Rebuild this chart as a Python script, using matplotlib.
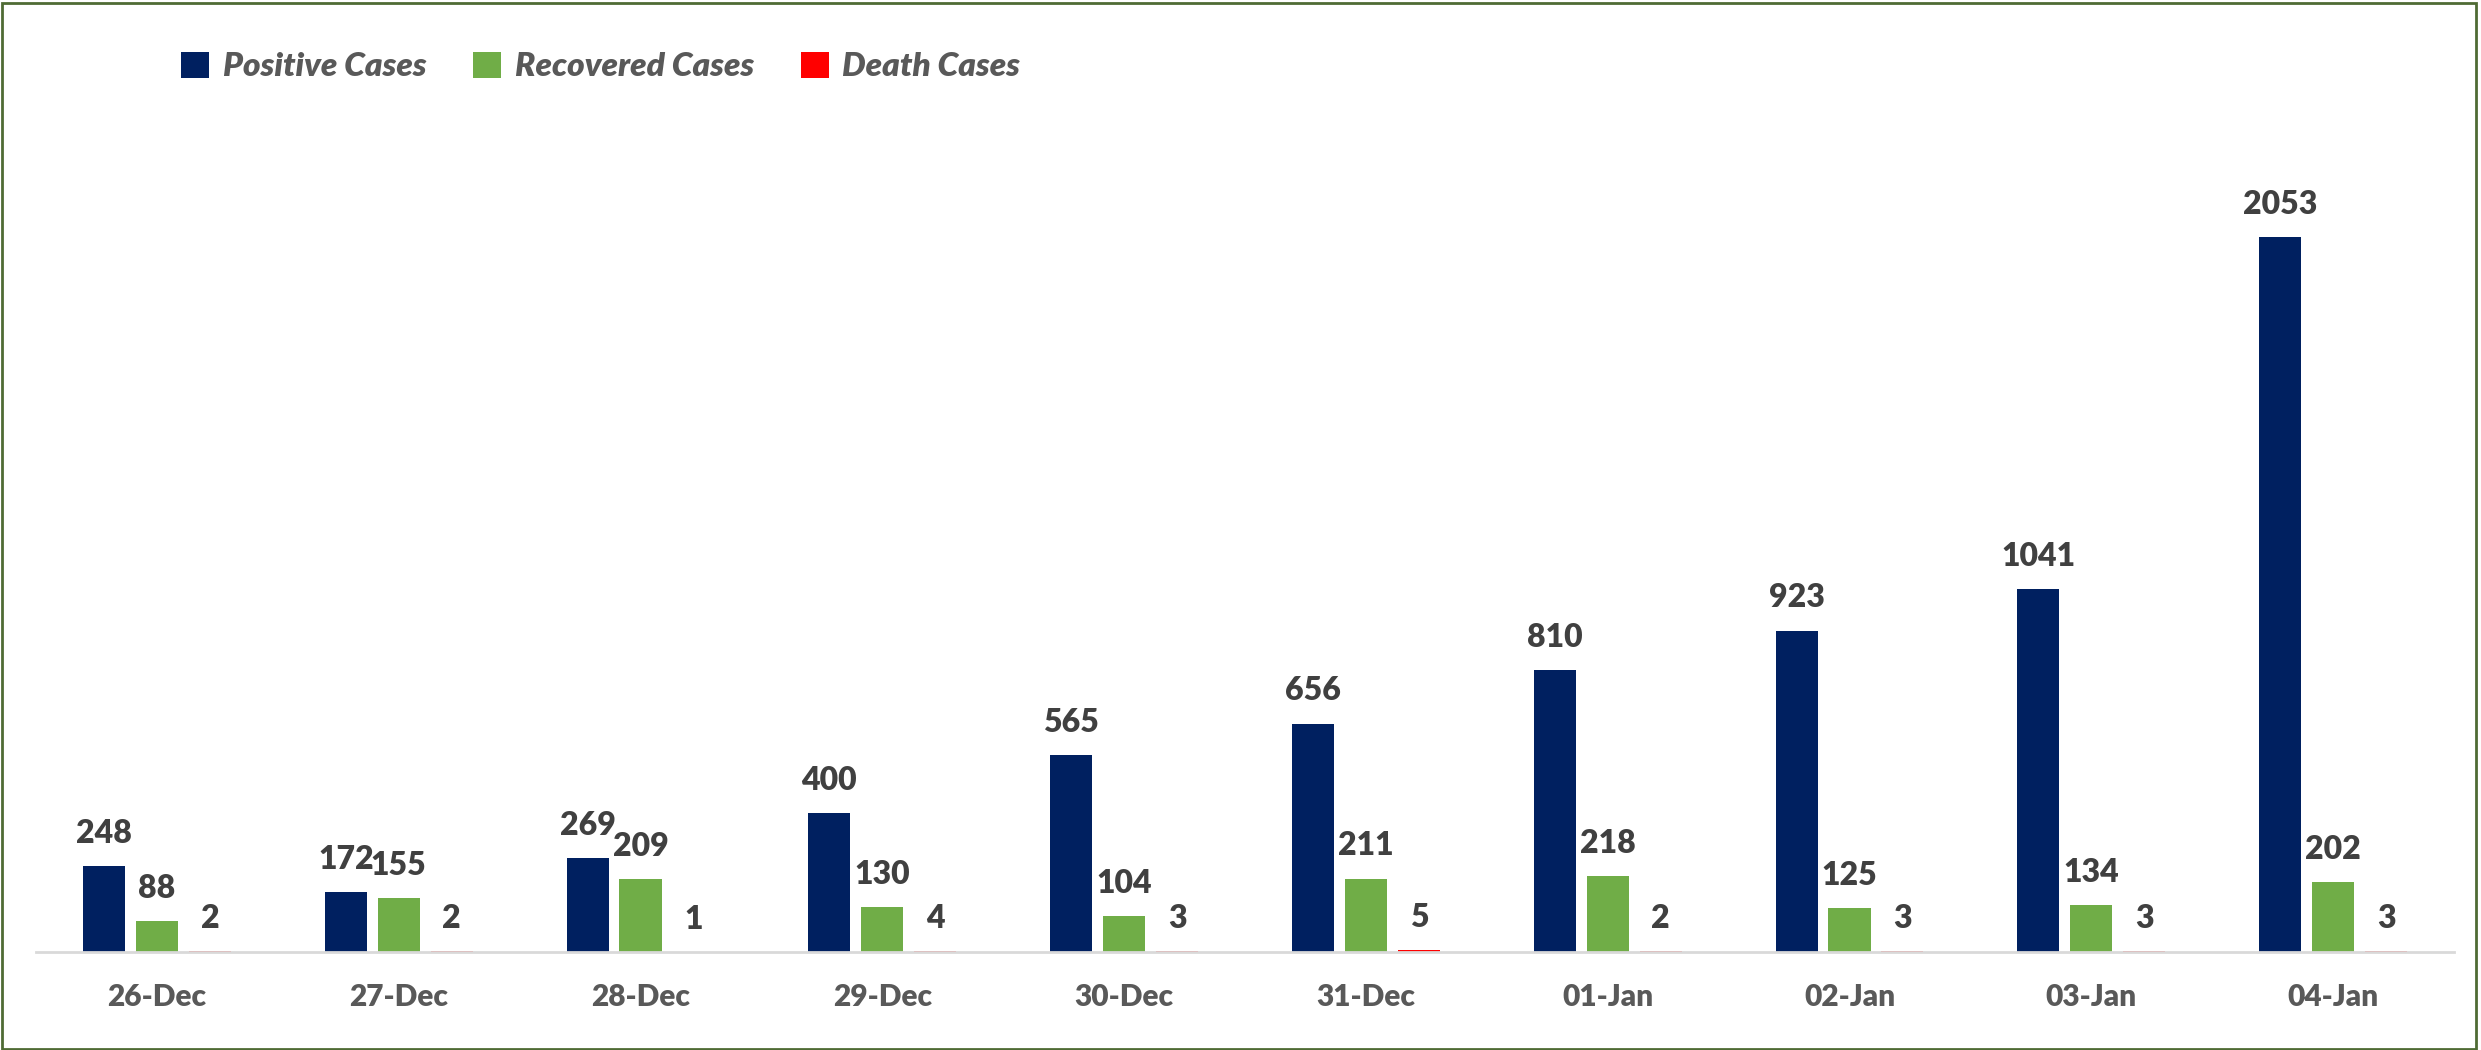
import matplotlib
matplotlib.use("Agg")
import matplotlib.pyplot as plt
from matplotlib.patches import Patch, Rectangle
import numpy as np

plt.rcParams['font.family'] = ['Lato', 'DejaVu Sans']

dates = ['26-Dec', '27-Dec', '28-Dec', '29-Dec', '30-Dec',
         '31-Dec', '01-Jan', '02-Jan', '03-Jan', '04-Jan']
positive = [248, 172, 269, 400, 565, 656, 810, 923, 1041, 2053]
recovered = [88, 155, 209, 130, 104, 211, 218, 125, 134, 202]
deaths = [2, 2, 1, 4, 3, 5, 2, 3, 3, 3]

series_names = ['Positive Cases', 'Recovered Cases', 'Death Cases']
colors = ['#002060', '#70AD47', '#FF0000']

W, H = 2481, 1050
fig = plt.figure(figsize=(W / 100, H / 100), dpi=100)
ymax = 2400
px_per_unit = 715 / 2053
ax = fig.add_axes([36 / W, 98 / H, (2454 - 36) / W, ymax * px_per_unit / H])

x = np.arange(len(dates))
width = 0.174
step = 0.219
for i, (vals, col) in enumerate(zip([positive, recovered, deaths], colors)):
    bars = ax.bar(x + (i - 1) * step, vals, width, color=col, label=series_names[i])
    ax.bar_label(bars, padding=13, fontsize=23, fontweight='heavy', color='#404040')

ax.set_xlim(-0.5, len(dates) - 0.5)
ax.set_ylim(0, ymax)
ax.set_yticks([])
ax.set_xticks(x)
ax.set_xticklabels(dates, fontsize=21.5, fontweight='heavy', color='#595959')
ax.tick_params(axis='x', length=0, pad=22)
for s in ['top', 'right', 'left']:
    ax.spines[s].set_visible(False)
ax.spines['bottom'].set_color('#d9d9d9')
ax.spines['bottom'].set_linewidth(2)

handles = [Patch(facecolor=c) for c in colors]
leg = fig.legend(handles, series_names, loc='center left',
                 bbox_to_anchor=(181 / W, 1 - 66.5 / H), ncol=3, frameon=False,
                 borderpad=0, borderaxespad=0, handlelength=0.85, handleheight=0.85,
                 handletextpad=0.4, columnspacing=1.4,
                 prop={'size': 24, 'weight': 'heavy', 'style': 'italic'})
for t in leg.get_texts():
    t.set_color('#595959')

fig.patches.append(Rectangle((0.001, 0.001), 0.997, 0.996, transform=fig.transFigure,
                             fill=False, edgecolor='#4f6b34', linewidth=2))

fig.savefig('out.png', dpi=100, facecolor='white')
